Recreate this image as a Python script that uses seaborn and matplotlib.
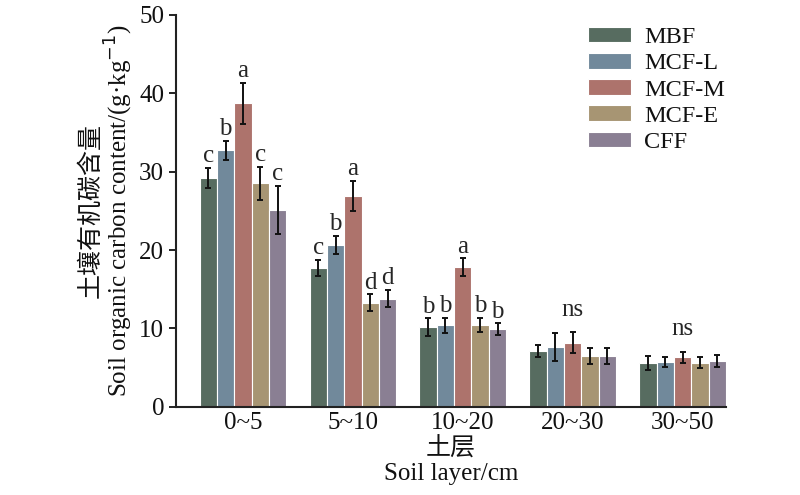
import numpy as np
import pandas as pd
import seaborn as sns
import matplotlib.pyplot as plt

# Data
layers = ["0~5", "5~10", "10~20", "20~30", "30~50"]
stands = ["MBF", "MCF-L", "MCF-M", "MCF-E", "CFF"]

mbf = [29.2, 17.7, 10.2, 7.1, 5.6]
mcf_l = [32.7, 20.7, 10.4, 7.6, 5.7]
mcf_m = [38.7, 26.9, 17.8, 8.2, 6.3]
mcf_e = [28.5, 13.3, 10.5, 6.5, 5.6]
cff = [25.1, 13.8, 9.9, 6.5, 5.9]

mbf_err = [1.3, 1.05, 1.1, 0.75, 0.9]
mcf_l_err = [1.25, 1.15, 1.0, 1.8, 0.6]
mcf_m_err = [2.6, 1.9, 1.15, 1.3, 0.75]
mcf_e_err = [2.15, 1.05, 0.9, 1.0, 0.7]
cff_err = [3.1, 1.1, 0.75, 1.0, 0.75]

letters = {
    "0~5": ["c", "b", "a", "c", "c"],
    "5~10": ["c", "b", "a", "d", "d"],
    "10~20": ["b", "b", "a", "b", "b"],
    "20~30": "ns",
    "30~50": "ns",
}

colors = ["#53705f", "#6a8aa2", "#b86a61", "#b0976a", "#8a7b97"]

values = [mbf, mcf_l, mcf_m, mcf_e, cff]
errors = [mbf_err, mcf_l_err, mcf_m_err, mcf_e_err, cff_err]

rows = []
for s, vals, errs in zip(stands, values, errors):
    for layer, v, e in zip(layers, vals, errs):
        rows.append({"layer": layer, "stand": s, "value": v, "err": e})
df = pd.DataFrame(rows)

sns.set_theme(style="ticks")
plt.rcParams["font.family"] = ["Liberation Serif", "Noto Sans CJK SC"]
plt.rcParams["axes.linewidth"] = 1.5

fig = plt.figure(figsize=(8, 4.95), dpi=100)
ax = fig.add_axes([0.22, 0.178, 0.6875, 0.792])

sns.barplot(data=df, x="layer", y="value", hue="stand", order=layers,
            hue_order=stands, palette=colors, width=0.79, errorbar=None,
            edgecolor="white", linewidth=0.8, ax=ax)

# error bars and significance letters, placed from the drawn bars
bar_containers = list(ax.containers)
tops = {}
for i, container in enumerate(bar_containers):
    for j, bar in enumerate(container.patches):
        x = bar.get_x() + bar.get_width() / 2
        h = bar.get_height()
        e = errors[i][j]
        ax.errorbar(x, h, yerr=e, fmt="none", ecolor="#111111",
                    elinewidth=1.4, capsize=2.5, capthick=1.4)
        tops.setdefault(j, []).append((x, h + e))

for j, layer in enumerate(layers):
    lab = letters[layer]
    if isinstance(lab, str):
        ymax = max(t for _, t in tops[j])
        ax.text(j, ymax + 1.5, lab, ha="center", va="bottom", fontsize=18)
    else:
        for (x, t), l in zip(tops[j], lab):
            ax.text(x, t + 0.1, l, ha="center", va="bottom", fontsize=18)

ax.set_xlim(-0.61, 4.395)
ax.set_ylim(0, 50)
ax.set_yticks([0, 10, 20, 30, 40, 50])
ax.tick_params(axis="y", direction="out", length=5, width=1.3,
               labelsize=18, colors="#111111")
ax.tick_params(axis="x", direction="in", length=5, width=1.3,
               labelsize=18, colors="#111111", pad=4)
sns.despine(ax=ax)
for sp in ["left", "bottom"]:
    ax.spines[sp].set_color("#222222")

ax.set_xlabel("土层\nSoil layer/cm", fontsize=18, linespacing=1.15,
              color="#111111", labelpad=2)
ax.set_ylabel("土壤有机碳含量\nSoil organic carbon content/(g·kg$^{-1}$)",
              fontsize=18, linespacing=1.0, color="#111111", labelpad=3)

leg = ax.legend(loc="upper left", bbox_to_anchor=(0.71, 1.025), frameon=False,
                fontsize=17.5, handlelength=1.75, handleheight=0.6,
                labelspacing=0.2, handletextpad=0.55)
for t in leg.get_texts():
    t.set_color("#111111")

fig.savefig("out.png", dpi=100)
